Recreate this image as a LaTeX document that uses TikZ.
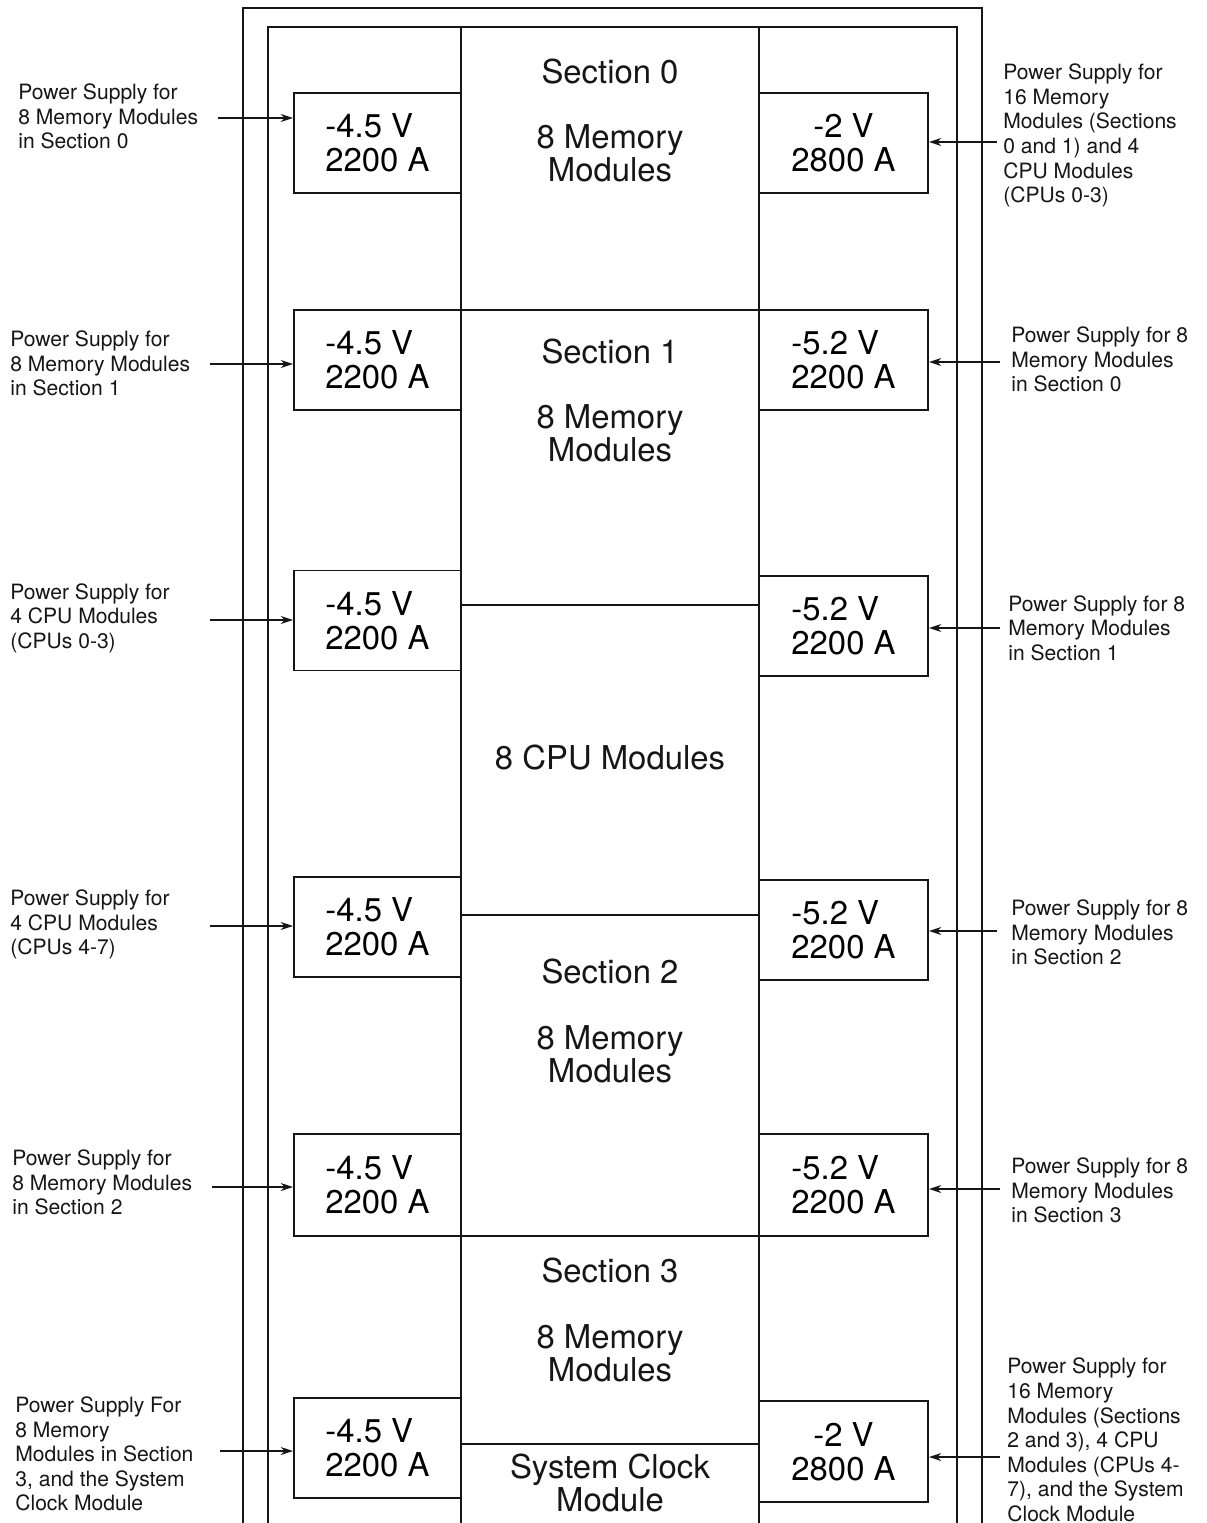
\documentclass[tikz,border=0pt]{standalone}
\usepackage{fontspec}
\setmainfont{TeX Gyre Heros}
\usetikzlibrary{arrows.meta}
\definecolor{scanInk}{HTML}{161616}

\begin{document}
\begin{tikzpicture}[
  x=0.02cm, y=-0.02cm,
  >={Stealth[length=7pt,width=4.5pt]},
  frame/.style={line width=1.1pt, scanInk},
  psbox/.style={draw=scanInk, line width=1.1pt, fill=white, inner sep=0pt, align=left,
    minimum height=2cm, font=\fontsize{18.7}{19.3}\selectfont},
  sect/.style={align=center, inner sep=0pt, text=scanInk, font=\fontsize{18.7}{18.8}\selectfont},
  lbl/.style={anchor=west, align=left, inner sep=0pt, text=scanInk, font=\fontsize{12}{14}\selectfont},
  feed/.style={->, line width=0.8pt, scanInk}
]
  \useasboundingbox (0,0) rectangle (1206,1523);

  % ----------------------------------------------------
  % Cabinet frame (open at the bottom) and centre column
  % ----------------------------------------------------
  \draw[frame] (243,1523) -- (243,8) -- (982,8) -- (982,1523);
  \draw[frame] (268,1523) -- (268,27) -- (957,27) -- (957,1523);
  \draw[frame] (461,27) -- (461,1523);
  \draw[frame] (759,27) -- (759,1523);
  \foreach \y in {310,605,915,1236,1444} {
    \draw[frame] (461,\y) -- (759,\y);
  }

  % ----------------------------------------------------
  % Centre column contents
  % ----------------------------------------------------
  \node[sect] (sec0) at (610,72) {Section 0};
  \node[sect] (mem0) at (610,153) {8 Memory\\Modules};
  \node[sect] (sec1) at (610,352) {Section 1};
  \node[sect] (mem1) at (610,433) {8 Memory\\Modules};
  \node[sect] (cpus) at (610,758) {8 CPU Modules};
  \node[sect] (sec2) at (610,972) {Section 2};
  \node[sect] (mem2) at (610,1054) {8 Memory\\Modules};
  \node[sect] (sec3) at (610,1271) {Section 3};
  \node[sect] (mem3) at (610,1353) {8 Memory\\Modules};
  \node[sect] (clock) at (610,1483) {System Clock\\Module};

  % ----------------------------------------------------
  % Left power supplies
  % ----------------------------------------------------
  \node[psbox, minimum width=3.34cm] (lps1) at (377.5,143) {-4.5 V\\2200 A};
  \node[psbox, minimum width=3.34cm] (lps2) at (377.5,360) {-4.5 V\\2200 A};
  \node[psbox, minimum width=3.34cm] (lps3) at (377.5,620.5) {-4.5 V\\2200 A};
  \node[psbox, minimum width=3.34cm] (lps4) at (377.5,927) {-4.5 V\\2200 A};
  \node[psbox, minimum width=3.34cm, minimum height=2.04cm] (lps5) at (377.5,1185) {-4.5 V\\2200 A};
  \node[psbox, minimum width=3.34cm] (lps6) at (377.5,1448) {-4.5 V\\2200 A};

  \node[lbl] (llab1) at (18,116.5) {Power Supply for\\8 Memory Modules\\in Section 0};
  \node[lbl] (llab2) at (10,363.5) {Power Supply for\\8 Memory Modules\\in Section 1};
  \node[lbl] (llab3) at (10,618) {Power Supply for\\4 CPU Modules\\(CPUs 0-3)};
  \node[lbl] (llab4) at (10,924.5) {Power Supply for\\4 CPU Modules\\(CPUs 4-7)};
  \node[lbl] (llab5) at (12,1182.5) {Power Supply for\\8 Memory Modules\\in Section 2};
  \node[lbl] (llab6) at (15,1454) {Power Supply For\\8 Memory\\Modules in Section\\3, and the System\\Clock Module};

  \coordinate (lin1) at (218,118);
  \coordinate (lin2) at (210,364);
  \coordinate (lin3) at (210,620);
  \coordinate (lin4) at (210,926);
  \coordinate (lin5) at (212,1187);
  \coordinate (lin6) at (220,1451);
  \foreach \n in {1,...,6} {
    \draw[feed] (lin\n) -- (lps\n.west |- lin\n);
  }

  % ----------------------------------------------------
  % Right power supplies
  % ----------------------------------------------------
  \node[psbox, minimum width=3.38cm, align=center] (rps1) at (843.5,143) {-2 V\\2800 A};
  \node[psbox, minimum width=3.38cm] (rps2) at (843.5,360) {-5.2 V\\2200 A};
  \node[psbox, minimum width=3.38cm] (rps3) at (843.5,626) {-5.2 V\\2200 A};
  \node[psbox, minimum width=3.38cm] (rps4) at (843.5,930) {-5.2 V\\2200 A};
  \node[psbox, minimum width=3.38cm, minimum height=2.04cm] (rps5) at (843.5,1185) {-5.2 V\\2200 A};
  \node[psbox, minimum width=3.38cm, minimum height=2.02cm, align=center] (rps6) at (843.5,1451.5) {-2 V\\2800 A};

  \node[lbl] (rlab1) at (1003,135.5) {Power Supply for\\16 Memory\\Modules (Sections\\0 and 1) and 4\\CPU Modules\\(CPUs 0-3)};
  \node[lbl] (rlab2) at (1011,359.5) {Power Supply for 8\\Memory Modules\\in Section 0};
  \node[lbl] (rlab3) at (1008,628) {Power Supply for 8\\Memory Modules\\in Section 1};
  \node[lbl] (rlab4) at (1011,932.5) {Power Supply for 8\\Memory Modules\\in Section 2};
  \node[lbl] (rlab5) at (1011,1190.5) {Power Supply for 8\\Memory Modules\\in Section 3};
  \node[lbl] (rlab6) at (1007,1440) {Power Supply for\\16 Memory\\Modules (Sections\\2 and 3), 4 CPU\\Modules (CPUs 4-\\7), and the System\\Clock Module};

  \coordinate (rin1) at (997,142);
  \coordinate (rin2) at (1000,362);
  \coordinate (rin3) at (1000,628);
  \coordinate (rin4) at (997,931);
  \coordinate (rin5) at (1000,1189);
  \coordinate (rin6) at (1000,1457);
  \foreach \n in {1,...,6} {
    \draw[feed] (rin\n) -- (rps\n.east |- rin\n);
  }

\end{tikzpicture}
\end{document}
